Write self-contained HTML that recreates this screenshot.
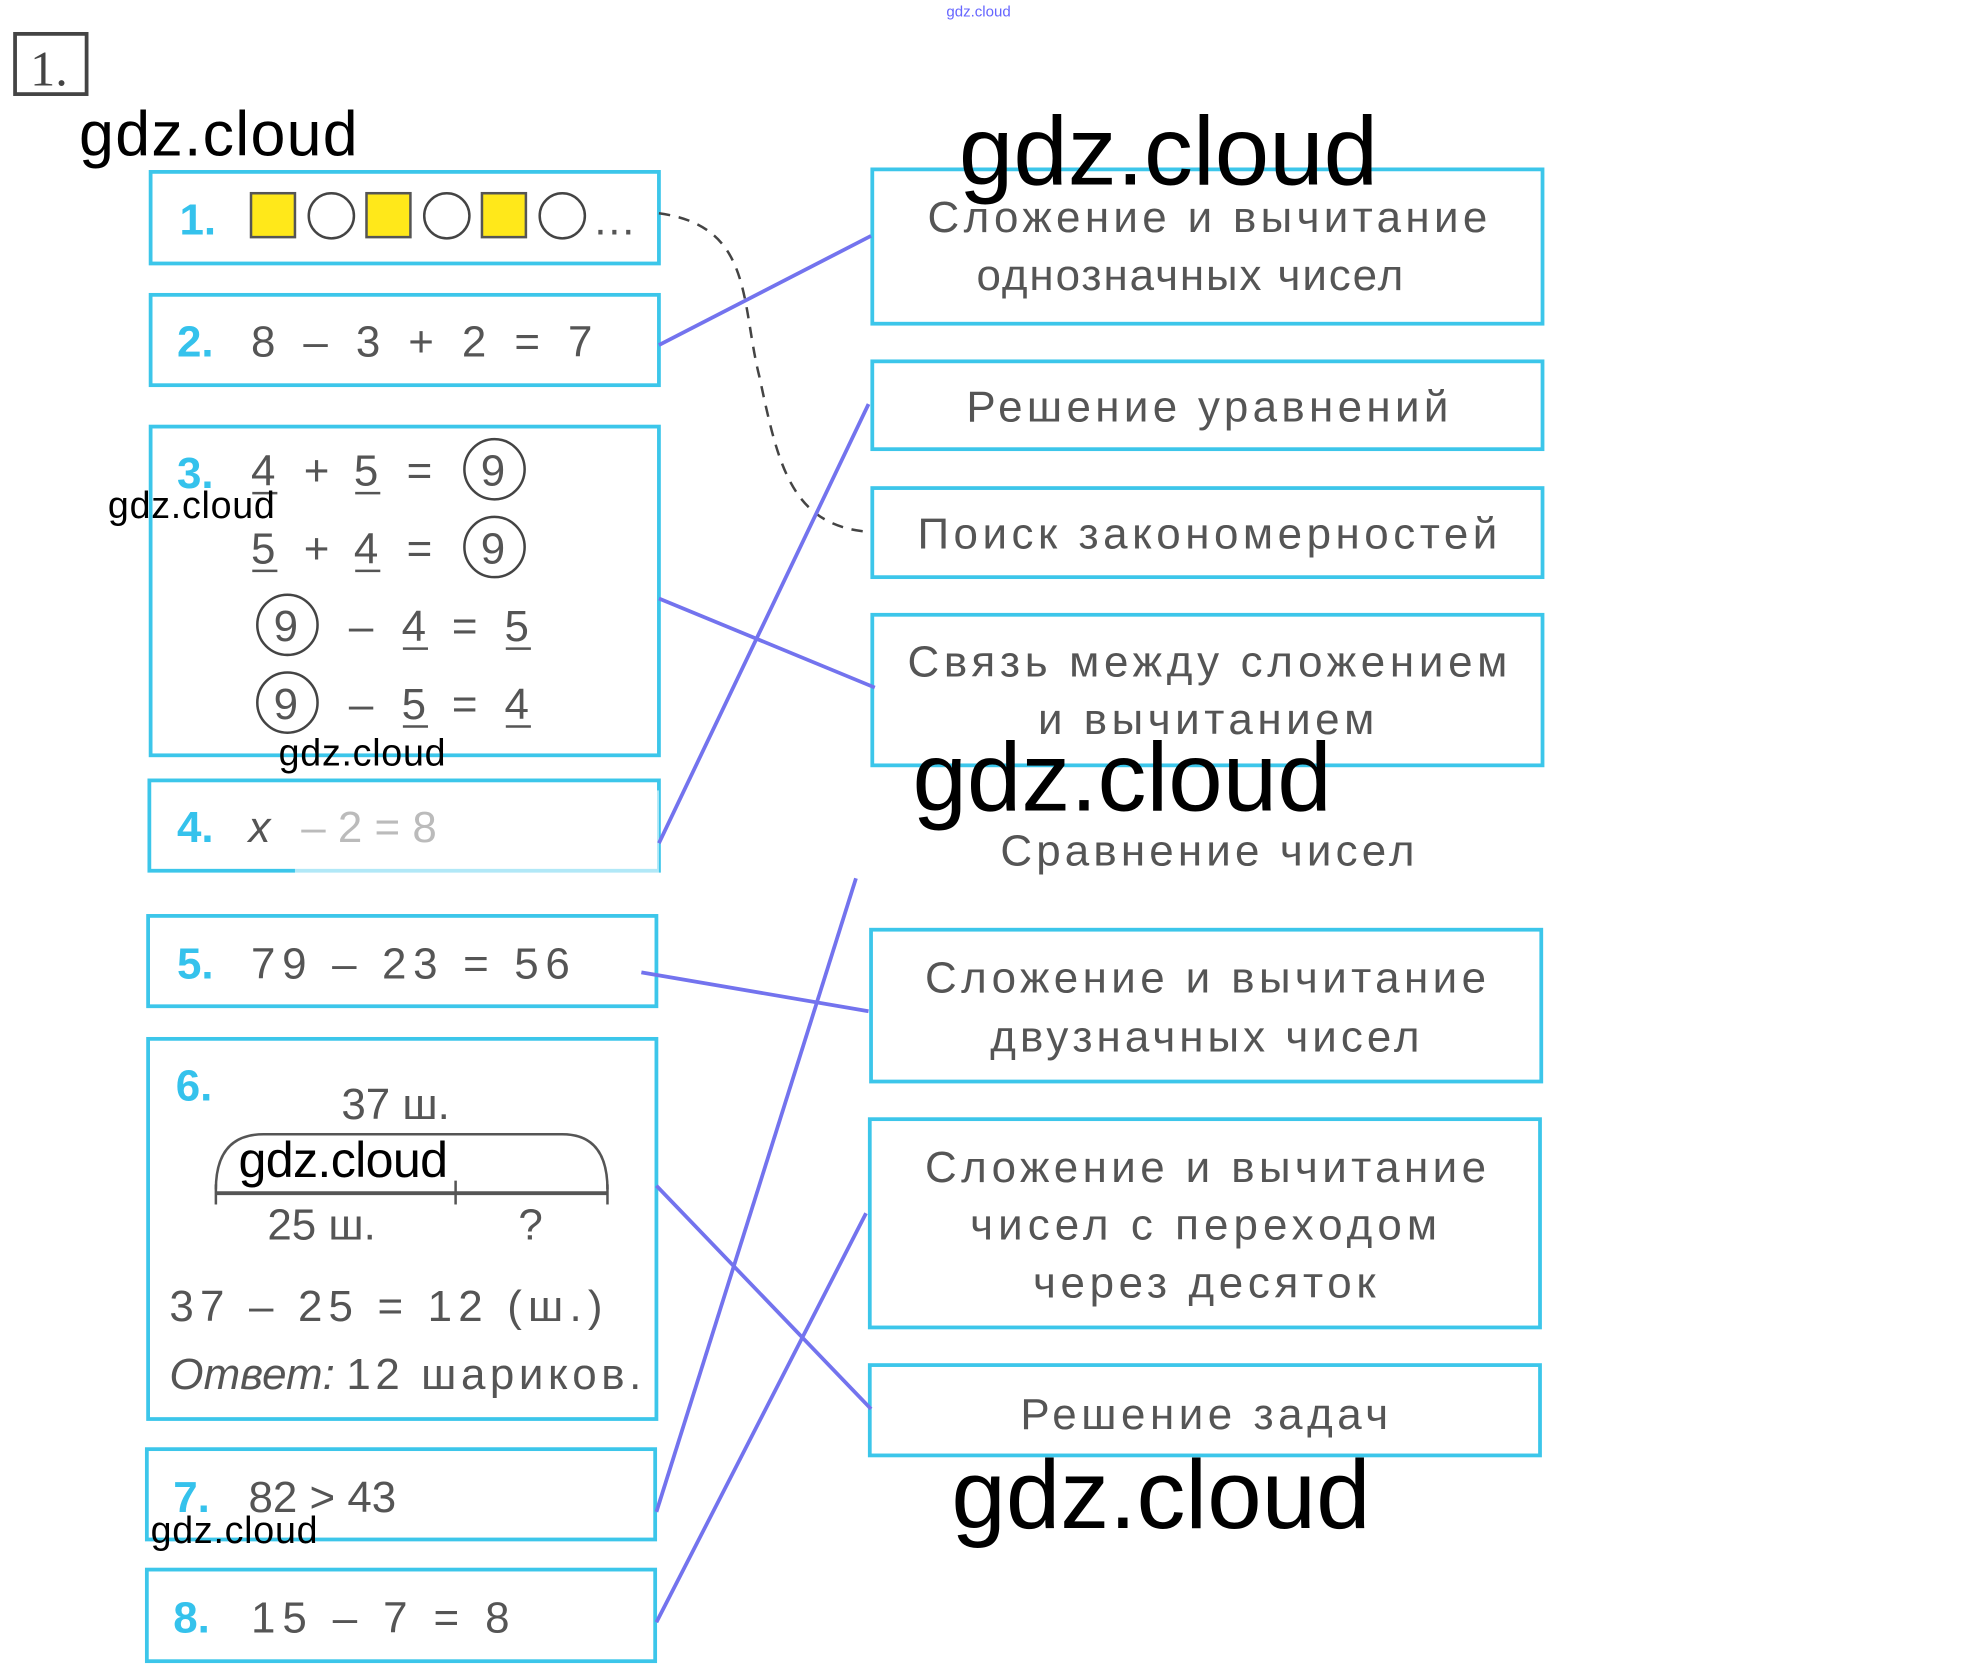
<!DOCTYPE html>
<html><head><meta charset="utf-8"><style>
html,body{margin:0;padding:0;background:#fff;}
svg{display:block}
.b{fill:none;stroke:#3cc6ea;stroke-width:3}
.t{font-family:"Liberation Sans",sans-serif;fill:#555;font-size:35px}
.n{font-family:"Liberation Sans",sans-serif;fill:#35c2ec;font-size:35px;font-weight:bold}
.w{font-family:"Liberation Sans",sans-serif;fill:#000}
.l{stroke:#7373ee;stroke-width:3;fill:none}
</style></head><body>
<svg width="1968" height="1680" viewBox="0 0 1568 1339" preserveAspectRatio="none" xmlns="http://www.w3.org/2000/svg">
<rect x="12" y="27" width="57" height="48" fill="none" stroke="#444" stroke-width="3"/>
<text x="24" y="68" font-family="Liberation Serif,serif" font-size="40" fill="#444">1.</text>
<text x="754" y="13" font-family="Liberation Sans,sans-serif" font-size="12" fill="#66f">gdz.cloud</text>

<rect class="b" x="120" y="137" width="405" height="73"/>
<rect class="b" x="120" y="235" width="405" height="72"/>
<rect class="b" x="120" y="340" width="405" height="262"/>
<rect class="b" x="119" y="622" width="406" height="72"/>
<rect class="b" x="118" y="730" width="405" height="72"/>
<rect class="b" x="118" y="828" width="405" height="303"/>
<rect class="b" x="117" y="1155" width="405" height="72"/>
<rect class="b" x="117" y="1251" width="405" height="73"/>

<text class="n" x="143" y="187">1.</text>
<rect x="200" y="154" width="35" height="35" fill="#ffe81a" stroke="#555" stroke-width="2"/>
<circle cx="264" cy="172" r="18" fill="none" stroke="#444" stroke-width="2"/>
<rect x="292" y="154" width="35" height="35" fill="#ffe81a" stroke="#555" stroke-width="2"/>
<circle cx="356" cy="172" r="18" fill="none" stroke="#444" stroke-width="2"/>
<rect x="384" y="154" width="35" height="35" fill="#ffe81a" stroke="#555" stroke-width="2"/>
<circle cx="448" cy="172" r="18" fill="none" stroke="#444" stroke-width="2"/>
<text class="t" x="472" y="187">…</text>

<text class="n" x="141" y="284">2.</text>
<text class="t" x="200" y="284" textLength="272">8 – 3 + 2 = 7</text>

<text class="n" x="141" y="389">3.</text>
<text class="t" x="200" y="387">4</text><text class="t" x="242" y="387">+</text><text class="t" x="282" y="387">5</text><text class="t" x="324" y="387">=</text>
<text class="t" x="200" y="449">5</text><text class="t" x="242" y="449">+</text><text class="t" x="282" y="449">4</text><text class="t" x="324" y="449">=</text>
<text class="t" x="278" y="511">–</text><text class="t" x="320" y="511">4</text><text class="t" x="360" y="511">=</text><text class="t" x="402" y="511">5</text>
<text class="t" x="278" y="573">–</text><text class="t" x="320" y="573">5</text><text class="t" x="360" y="573">=</text><text class="t" x="402" y="573">4</text>
<g stroke="#555" stroke-width="2">
<line x1="201" y1="393" x2="221" y2="393"/><line x1="283" y1="393" x2="303" y2="393"/>
<line x1="201" y1="455" x2="221" y2="455"/><line x1="283" y1="455" x2="303" y2="455"/>
<line x1="321" y1="517" x2="341" y2="517"/><line x1="403" y1="517" x2="423" y2="517"/>
<line x1="321" y1="579" x2="341" y2="579"/><line x1="403" y1="579" x2="423" y2="579"/>
</g>
<g fill="none" stroke="#444" stroke-width="2">
<circle cx="394" cy="374" r="24"/><circle cx="394" cy="436" r="24"/>
<circle cx="229" cy="498" r="24"/><circle cx="229" cy="560" r="24"/>
</g>
<text class="t" x="383" y="387">9</text><text class="t" x="383" y="449">9</text>
<text class="t" x="218" y="511">9</text><text class="t" x="218" y="573">9</text>

<text class="n" x="141" y="671">4.</text>
<text class="t" x="198" y="671" font-style="italic">x</text>
<text class="t" x="240" y="671" fill="#bbb">– 2 = 8</text>
<rect x="235" y="630" width="290" height="95" fill="#fff" opacity="0.6"/>

<text class="n" x="141" y="780">5.</text>
<text class="t" x="200" y="780" textLength="254">79 – 23 = 56</text>

<text class="n" x="140" y="877">6.</text>
<text class="t" x="272" y="892">37 ш.</text>
<path d="M172 948 Q172 904 210 904 L448 904 Q484 904 484 948" fill="none" stroke="#555" stroke-width="2"/>
<line x1="172" y1="951" x2="484" y2="951" stroke="#555" stroke-width="3"/>
<line x1="363" y1="941" x2="363" y2="960" stroke="#555" stroke-width="2"/>
<line x1="172" y1="944" x2="172" y2="960" stroke="#555" stroke-width="2"/>
<line x1="484" y1="944" x2="484" y2="960" stroke="#555" stroke-width="2"/>
<text class="t" x="213" y="988">25 ш.</text>
<text class="t" x="413" y="988">?</text>
<text class="t" x="135" y="1053" textLength="345">37 – 25 = 12 (ш.)</text>
<text class="t" x="135" y="1107" font-style="italic">Ответ:</text>
<text class="t" x="276" y="1107" textLength="235">12 шариков.</text>

<text class="n" x="138" y="1205">7.</text>
<text class="t" x="198" y="1205">82 &gt; 43</text>
<text class="n" x="138" y="1301">8.</text>
<text class="t" x="200" y="1301" textLength="206">15 – 7 = 8</text>

<rect class="b" x="695" y="135" width="534" height="123"/>
<rect class="b" x="695" y="288" width="534" height="70"/>
<rect class="b" x="695" y="389" width="534" height="71"/>
<rect class="b" x="695" y="490" width="534" height="120"/>
<rect class="b" x="694" y="741" width="534" height="121"/>
<rect class="b" x="693" y="892" width="534" height="166"/>
<rect class="b" x="693" y="1088" width="534" height="72"/>

<text class="t" x="739" y="185" textLength="446">Сложение и вычитание</text>
<text class="t" x="778" y="231" textLength="340">однозначных чисел</text>
<text class="t" x="770" y="336" textLength="384">Решение уравнений</text>
<text class="t" x="731" y="437" textLength="462">Поиск закономерностей</text>
<text class="t" x="723" y="539" textLength="478">Связь между сложением</text>
<text class="t" x="827" y="585" textLength="268">и вычитанием</text>
<text class="t" x="797" y="690" textLength="330" fill="#888">Сравнение чисел</text>
<text class="t" x="737" y="791" textLength="447">Сложение и вычитание</text>
<text class="t" x="789" y="838" textLength="342">двузначных чисел</text>
<text class="t" x="737" y="942" textLength="447">Сложение и вычитание</text>
<text class="t" x="773" y="988" textLength="372">чисел с переходом</text>
<text class="t" x="823" y="1034" textLength="273">через десяток</text>
<text class="t" x="813" y="1139" textLength="293">Решение задач</text>

<path d="M525 170 C600 180 590 240 605 300 C620 370 630 420 694 424" fill="none" stroke="#444" stroke-width="2" stroke-dasharray="9,7"/>
<line class="l" x1="525" y1="275" x2="694" y2="188"/>
<line class="l" x1="525" y1="477" x2="697" y2="548"/>
<line class="l" x1="525" y1="672" x2="692" y2="322"/>
<line class="l" x1="511" y1="775" x2="692" y2="806"/>
<line class="l" x1="523" y1="945" x2="694" y2="1123"/>
<line class="l" x1="523" y1="1205" x2="682" y2="700"/>
<line class="l" x1="523" y1="1293" x2="690" y2="967"/>

<text class="w" x="63" y="124" font-size="50" textLength="222">gdz.cloud</text>
<text class="w" x="764" y="147" font-size="78" textLength="334">gdz.cloud</text>
<text class="w" x="86" y="413" font-size="30" textLength="133">gdz.cloud</text>
<text class="w" x="222" y="610" font-size="30" textLength="133">gdz.cloud</text>
<text class="w" x="727" y="646" font-size="78" textLength="334">gdz.cloud</text>
<text class="w" x="190" y="938" font-size="40" textLength="167">gdz.cloud</text>
<text class="w" x="120" y="1230" font-size="30" textLength="133">gdz.cloud</text>
<text class="w" x="758" y="1218" font-size="78" textLength="334">gdz.cloud</text>
</svg>
</body></html>
